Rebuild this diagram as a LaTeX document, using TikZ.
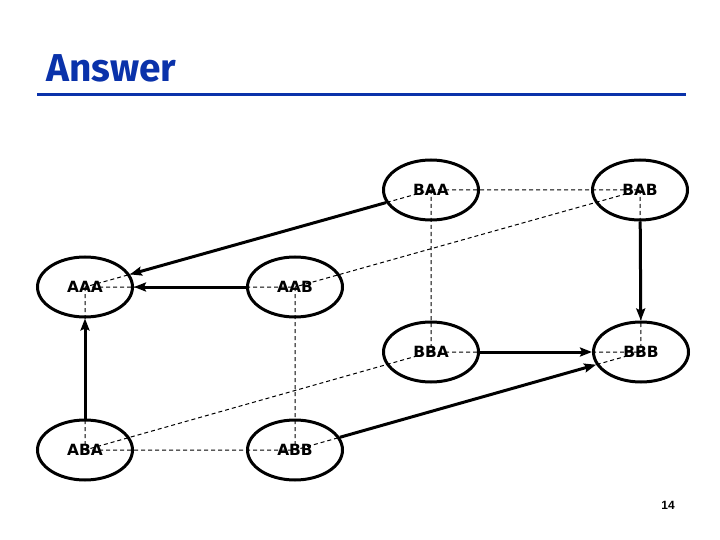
\documentclass[tikz,border=0pt]{standalone}
\usepackage{fontspec}
\setmainfont{DejaVu Sans}
\newfontfamily\titlefont{Fira Sans}
\newfontfamily\numfont{Liberation Sans}
\usetikzlibrary{shapes.geometric,arrows.meta}
\definecolor{titleblue}{RGB}{10,50,170}
\tikzset{
  st/.style={ellipse,draw=black,line width=3bp,minimum width=95bp,minimum height=60bp,inner sep=0pt,font=\bfseries\fontsize{15.5}{18}\selectfont},
  cube/.style={dash pattern=on 4bp off 3bp,line width=1bp},
  arr/.style={line width=3bp,-{Stealth[length=12bp,width=9bp,inset=2bp]}}
}
\begin{document}
\begin{tikzpicture}[x=1bp,y=-1bp]
\useasboundingbox (0,0) rectangle (720,540);
\node[anchor=west,text=titleblue,font=\titlefont\bfseries\fontsize{39}{44}\selectfont] (title) at (43,68) {Answer};
\draw[titleblue,line width=3bp] (37,95) -- (686,95);
\coordinate (BAAc) at (431,190);
\coordinate (BABc) at (640,190);
\coordinate (AAAc) at (85,287);
\coordinate (AABc) at (295,287);
\coordinate (BBAc) at (431,352);
\coordinate (BBBc) at (641,352);
\coordinate (ABAc) at (85,450);
\coordinate (ABBc) at (295,450);
\draw[cube] (BAAc) -- (BABc) (BBAc) -- (BBBc) (AAAc) -- (AABc) (ABAc) -- (ABBc)
  (BAAc) -- (BBAc) (BABc) -- (BBBc) (AAAc) -- (ABAc) (AABc) -- (ABBc)
  (BAAc) -- (AAAc) (BABc) -- (AABc) (BBAc) -- (ABAc) (BBBc) -- (ABBc);
\node[st] (BAA) at (BAAc) {BAA};
\node[st] (BAB) at (BABc) {BAB};
\node[st] (AAA) at (AAAc) {AAA};
\node[st] (AAB) at (AABc) {AAB};
\node[st] (BBA) at (BBAc) {BBA};
\node[st] (BBB) at (BBBc) {BBB};
\node[st] (ABA) at (ABAc) {ABA};
\node[st] (ABB) at (ABBc) {ABB};
\draw[arr] (BAA) -- (AAA);
\draw[arr] (AAB) -- (AAA);
\draw[arr] (ABA) -- (AAA);
\draw[arr] (BAB) -- (BBB);
\draw[arr] (BBA) -- (BBB);
\draw[arr] (ABB) -- (BBB);
\node[font=\numfont\bfseries\fontsize{12}{14}\selectfont] (num) at (668,505) {14};
\end{tikzpicture}
\end{document}
